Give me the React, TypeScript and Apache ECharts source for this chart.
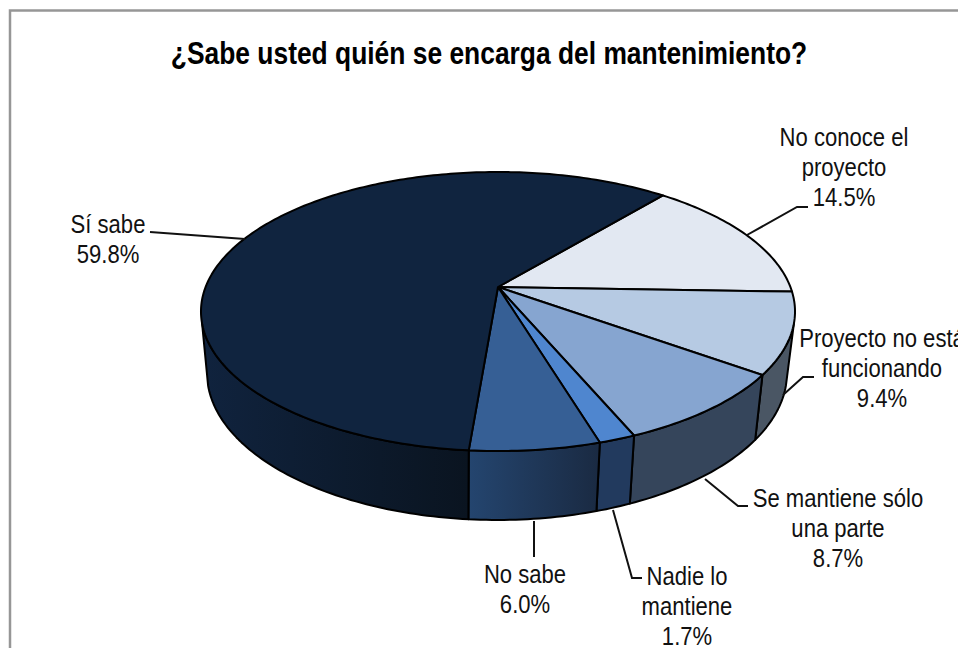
import React, { useEffect, useRef } from "react";
import * as echarts from "echarts";

const titleText = "¿Sabe usted quién se encarga del mantenimiento?";
const categories = [
  "No conoce el\nproyecto",
  "Proyecto no está\nfuncionando",
  "Se mantiene sólo\nuna parte",
  "Nadie lo\nmantiene",
  "No sabe",
  "Sí sabe",
];
const values = [14.5, 9.4, 8.7, 1.7, 6.0, 59.8];
const topColors = ["#e2e8f2", "#b6cae3", "#86a5d0", "#4f86cf", "#365f95", "#10243f"];
const wallStops = [
  ["#50596a", "#50596a"],
  ["#4a5664", "#4a5664"],
  ["#35455b", "#35455b"],
  ["#223a5e", "#223a5e"],
  ["#24456f", "#1a2a42"],
  ["#10233e", "#0a1420"],
];
// label layout: centre x, top y of first line
const labelPos = [
  [844, 122],
  [882, 322.5],
  [838, 482.5],
  [687, 561],
  [525, 559],
  [108, 208.5],
];
const leaderLines = [
  [[808, 207], [797, 207], [747, 235]],
  [[814, 377], [803, 377], [783, 395]],
  [[748, 506], [738, 506], [705, 479]],
  [[642, 578], [632, 578], [613, 510]],
  [[534, 521], [534, 557]],
  [[150, 232], [245, 239]],
];

// perspective projection of the pie discs
const START_ANGLE = 39.8;
const K = 0.1756;
const TOP = { cx: 498, cy: 287, a: 292.4, b: 135.2 };
const BASE = { cx: 497, cy: 347, a: 285.5, b: 142.6 };
const WALL_FROM = 105;
const WALL_TO = 255;

const total = values.reduce((s, v) => s + v, 0);
function project(disc: typeof TOP, deg: number): number[] {
  const t = (deg * Math.PI) / 180;
  const X = Math.sin(t);
  const Y = Math.cos(t);
  const w = 1 + K * Y;
  return [disc.cx + (disc.a * X) / w, disc.cy - (disc.b * Y) / w];
}
function sweep(disc: typeof TOP, from: number, to: number): number[][] {
  const n = Math.max(2, Math.ceil(to - from));
  const out: number[][] = [];
  for (let i = 0; i <= n; i++) out.push(project(disc, from + ((to - from) * i) / n));
  return out;
}
function sliceRange(index: number): number[] {
  let a = START_ANGLE;
  for (let i = 0; i < index; i++) a += (values[i] / total) * 360;
  return [a, a + (values[index] / total) * 360];
}

const STROKE = "#000000";

function renderWall(params: any) {
  const i = params.dataIndex;
  const [a0, a1] = sliceRange(i);
  const from = Math.max(a0, WALL_FROM);
  const to = Math.min(a1, WALL_TO);
  if (to <= from) return { type: "group", children: [] };
  const pts = sweep(TOP, from, to).concat(sweep(BASE, from, to).reverse());
  return {
    type: "polygon",
    shape: { points: pts },
    style: {
      fill: {
        type: "linear", x: 0, y: 0, x2: 1, y2: 0,
        colorStops: [
          { offset: 0, color: wallStops[i][0] },
          { offset: 1, color: wallStops[i][1] },
        ],
      },
      stroke: STROKE,
      lineWidth: 2,
      lineJoin: "round",
    },
  };
}
function renderTop(params: any) {
  const i = params.dataIndex;
  const [a0, a1] = sliceRange(i);
  const pts = [[TOP.cx, TOP.cy]].concat(sweep(TOP, a0, a1));
  return {
    type: "polygon",
    shape: { points: pts },
    style: { fill: topColors[i], stroke: STROKE, lineWidth: 2, lineJoin: "round" },
  };
}
function renderLabel(params: any) {
  const i = params.dataIndex;
  const text = `${categories[i]}\n${values[i].toFixed(1)}%`;
  return {
    type: "group",
    children: [
      {
        type: "polyline",
        shape: { points: leaderLines[i] },
        style: { fill: "none", stroke: "#111111", lineWidth: 2 },
      },
      {
        type: "text",
        x: labelPos[i][0],
        y: labelPos[i][1],
        scaleX: 0.92,
        scaleY: 1.1,
        style: {
          text,
          fill: "#111111",
          font: "24px 'Liberation Sans', Arial, sans-serif",
          align: "center",
          verticalAlign: "top",
          lineHeight: 27.3,
        },
      },
    ],
  };
}

export default function App() {
  const ref = useRef<HTMLDivElement>(null);
  useEffect(() => {
    document.body.style.margin = "0";
    document.body.style.overflow = "hidden";
    const chart = echarts.init(ref.current!, undefined, { renderer: "svg", width: 958, height: 648 });
    const data = values.map((v) => v);
    chart.setOption({
      animation: false,
      backgroundColor: "#ffffff",
      graphic: [
        {
          type: "rect",
          z: 0,
          shape: { x: 10, y: 10.5, width: 1000, height: 800 },
          style: { fill: "#ffffff", stroke: "#969696", lineWidth: 2.5 },
        },
        {
          type: "text",
          z: 10,
          x: 489,
          y: 37,
          scaleX: 0.943,
          scaleY: 1.12,
          style: {
            text: titleText,
            fill: "#000000",
            font: "bold 28px 'Liberation Sans', Arial, sans-serif",
            align: "center",
            verticalAlign: "top",
          },
        },
      ],
      series: [
        { type: "custom", coordinateSystem: "none", silent: true, z: 2, data, renderItem: renderWall },
        { type: "custom", coordinateSystem: "none", silent: true, z: 3, data, renderItem: renderTop },
        { type: "custom", coordinateSystem: "none", silent: true, z: 4, data, renderItem: renderLabel },
      ],
    });
    return () => chart.dispose();
  }, []);
  return <div ref={ref} style={{ width: 958, height: 648 }} />;
}
